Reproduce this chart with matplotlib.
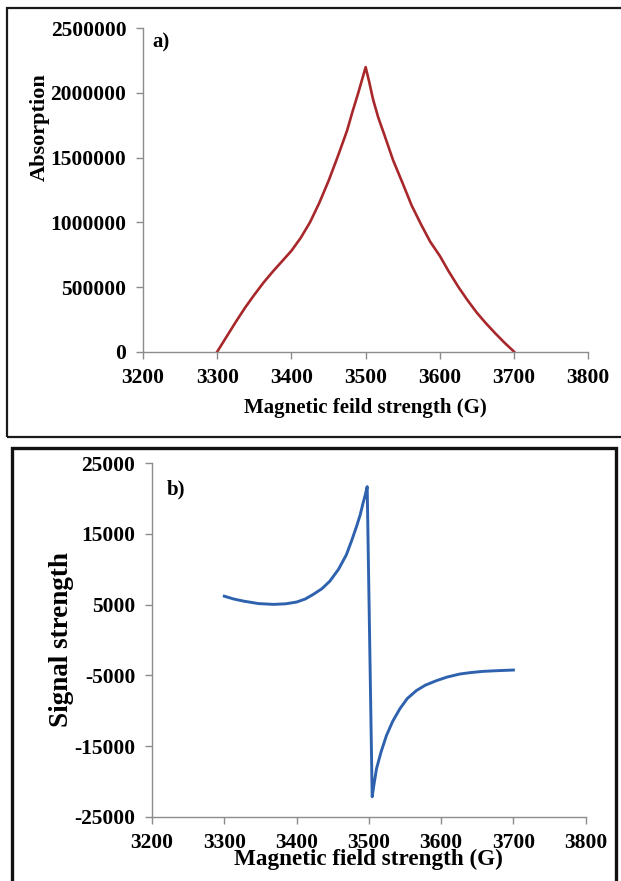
import numpy as np
import matplotlib.pyplot as plt
from matplotlib.patches import Rectangle

# a) absorption curve (read off the picture)
field_a = [3300, 3312.5, 3325, 3337.5, 3350, 3362.5, 3375, 3387.5, 3400, 3412.5, 3425,
           3437.5, 3450, 3462.5, 3475, 3482, 3490, 3495, 3500,
           3505, 3510, 3517, 3525, 3537, 3550, 3562, 3575, 3587, 3600, 3612, 3625,
           3637, 3650, 3662, 3675, 3687, 3700]
absorption = [0, 115000, 230000, 340000, 440000, 535000, 620000, 700000, 780000, 880000, 1000000,
              1150000, 1320000, 1510000, 1710000, 1850000, 2000000, 2100000, 2200000,
              2080000, 1950000, 1810000, 1680000, 1480000, 1300000, 1130000, 980000, 850000,
              740000, 620000, 500000, 400000, 300000, 220000, 140000, 70000, 0]

# b) first-derivative signal
field_b = [3300, 3313, 3326.7, 3347.5, 3368, 3385, 3400, 3412, 3423, 3435, 3446, 3458,
           3469, 3476, 3483, 3488, 3492, 3495, 3497.7,
           3504.6, 3507, 3510.6, 3517, 3524.4, 3533, 3542.8, 3553, 3565.7, 3578,
           3593.3, 3608, 3625.5, 3640, 3657.7, 3680, 3700]
signal = [6200, 5800, 5500, 5150, 5040, 5120, 5370, 5800, 6450, 7250, 8320, 10000,
          12080, 14000, 16070, 17700, 19370, 20500, 21700,
          -22180, -20500, -18200, -15800, -13500, -11500, -9750, -8300, -7160, -6400,
          -5760, -5250, -4820, -4620, -4440, -4330, -4250]

xticks = [3200, 3300, 3400, 3500, 3600, 3700, 3800]
yticks_a = [0, 500000, 1000000, 1500000, 2000000, 2500000]
yticks_b = [-25000, -15000, -5000, 5000, 15000, 25000]

plt.rcParams['font.family'] = ['Liberation Serif', 'DejaVu Serif']
plt.rcParams['font.weight'] = 'bold'

W, H = 621, 881
fig = plt.figure(figsize=(W / 100, H / 100), dpi=100)

def px_axes(left, top, right, bottom):
    return fig.add_axes([left / W, 1 - bottom / H, (right - left) / W, (bottom - top) / H])

def style(ax):
    for s in ['top', 'right']:
        ax.spines[s].set_visible(False)
    for s in ['left', 'bottom']:
        ax.spines[s].set_color('#8c8c8c')
        ax.spines[s].set_linewidth(1.0)
    ax.tick_params(direction='out', length=5, width=1.0, color='#8c8c8c',
                   labelsize=15.5)
    ax.tick_params(axis='x', pad=7)
    ax.tick_params(axis='y', pad=7)
    ax.set_xlim(3200, 3800)
    ax.set_xticks(xticks)
    for lab in ax.get_xticklabels() + ax.get_yticklabels():
        lab.set_fontweight('bold')

# panel a
ax1 = px_axes(143, 28.3, 588.3, 351.7)
ax1.plot(field_a, absorption, color='#A8272B', lw=1.9)
style(ax1)
ax1.set_ylim(0, 2500000)
ax1.set_yticks(yticks_a)
ax1.set_yticklabels([str(v) for v in yticks_a], fontweight='bold')
ax1.set_xlabel('Magnetic feild strength (G)', fontsize=15, fontweight='bold')
ax1.xaxis.set_label_coords(0.5, -0.143)
ax1.set_ylabel('Absorption', fontsize=16, fontweight='bold')
ax1.yaxis.set_label_coords(-0.21, 0.693)
ax1.text(0.02, 0.955, 'a)', transform=ax1.transAxes, fontsize=15,
         fontweight='bold', va='center', ha='left')

# panel b
ax2 = px_axes(152, 463.3, 585.7, 816.7)
ax2.plot(field_b, signal, color='#2E62AE', lw=2.1)
style(ax2)
ax2.set_ylim(-25000, 25000)
ax2.set_yticks(yticks_b)
ax2.set_yticklabels([str(v) for v in yticks_b], fontweight='bold')
ax2.set_xlabel('Magnetic field strength (G)', fontsize=16.7, fontweight='bold')
ax2.xaxis.set_label_coords(0.5, -0.09)
ax2.set_ylabel('Signal strength', fontsize=19.5, fontweight='bold')
ax2.yaxis.set_label_coords(-0.18, 0.5)
ax2.text(0.035, 0.925, 'b)', transform=ax2.transAxes, fontsize=15,
         fontweight='bold', va='center', ha='left')

# black frames around each panel
fig.add_artist(Rectangle((7 / W, 1 - 437 / H), 1.2, (437 - 8) / H, transform=fig.transFigure,
                         fill=False, edgecolor='#1a1a1a', lw=1.6, clip_on=False))
fig.add_artist(Rectangle((12 / W, -0.1), (616 - 12) / W, 1 - 448 / H + 0.1,
                         transform=fig.transFigure, fill=False, edgecolor='#111111',
                         lw=2.4, clip_on=False))

fig.savefig('out.png', dpi=100)
